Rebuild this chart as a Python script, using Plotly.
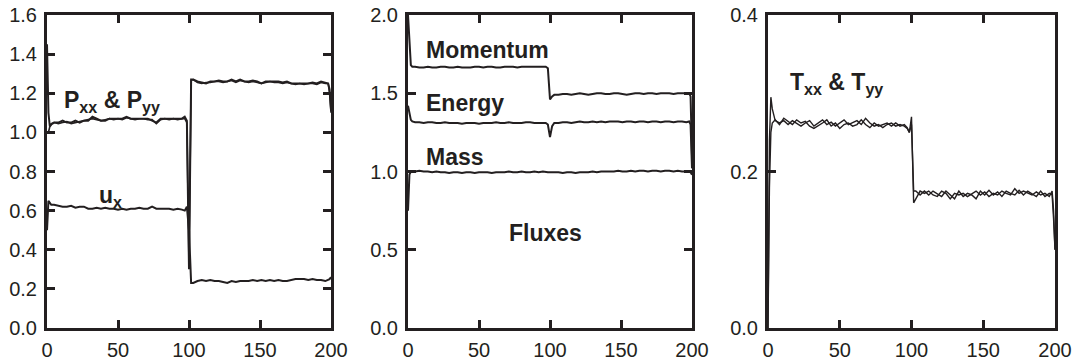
import plotly.graph_objects as go

xs = [0, 1, 2, 3, 5, 8, 11, 14, 17, 20, 23, 26, 29, 32, 35, 38, 41, 44, 47, 50,
      53, 56, 59, 62, 65, 68, 71, 74, 77, 80, 83, 86, 89, 92, 95, 97, 98.5, 100,
      101.5, 103, 106, 109, 112, 115, 118, 121, 124, 127, 130, 133, 136, 139, 142,
      145, 148, 151, 154, 157, 160, 163, 166, 169, 172, 175, 178, 181, 184, 187,
      190, 193, 196, 198, 199, 200]

pxx = [1.45, 1.10, 1.03, 1.04, 1.05, 1.05, 1.06, 1.05, 1.05, 1.06, 1.05, 1.06, 1.06, 1.08,
       1.07, 1.06, 1.06, 1.07, 1.07, 1.07, 1.07, 1.08, 1.07, 1.07, 1.07, 1.07, 1.07, 1.06,
       1.05, 1.07, 1.07, 1.07, 1.07, 1.07, 1.07, 1.08, 1.06, 0.30, 1.27, 1.27, 1.26, 1.255,
       1.25, 1.26, 1.26, 1.265, 1.26, 1.26, 1.27, 1.26, 1.27, 1.26, 1.26, 1.265, 1.26, 1.25,
       1.26, 1.26, 1.26, 1.26, 1.255, 1.26, 1.25, 1.25, 1.25, 1.25, 1.25, 1.255, 1.25, 1.26,
       1.255, 1.25, 1.22, 1.12]
pyy = [1.00, 1.00, 1.03, 1.045, 1.05, 1.045, 1.05, 1.055, 1.045, 1.05, 1.055, 1.06, 1.065,
       1.07, 1.065, 1.06, 1.065, 1.07, 1.065, 1.07, 1.065, 1.075, 1.07, 1.065, 1.07, 1.07,
       1.065, 1.065, 1.045, 1.065, 1.07, 1.065, 1.07, 1.065, 1.07, 1.07, 1.05, 0.32, 1.265,
       1.27, 1.255, 1.25, 1.255, 1.255, 1.26, 1.26, 1.255, 1.26, 1.265, 1.255, 1.265, 1.26,
       1.255, 1.26, 1.255, 1.25, 1.255, 1.26, 1.255, 1.255, 1.25, 1.255, 1.25, 1.245, 1.25,
       1.245, 1.25, 1.25, 1.245, 1.255, 1.25, 1.25, 1.20, 1.10]
ux = [0.50, 0.65, 0.64, 0.63, 0.63, 0.625, 0.62, 0.62, 0.625, 0.615, 0.62, 0.62, 0.61, 0.61,
      0.615, 0.61, 0.615, 0.61, 0.61, 0.605, 0.61, 0.605, 0.61, 0.61, 0.615, 0.61, 0.61, 0.62,
      0.61, 0.61, 0.61, 0.61, 0.605, 0.61, 0.605, 0.60, 0.62, 0.50, 0.23, 0.23, 0.24, 0.245,
      0.24, 0.245, 0.24, 0.24, 0.235, 0.23, 0.24, 0.235, 0.24, 0.24, 0.24, 0.245, 0.24, 0.245,
      0.24, 0.245, 0.24, 0.245, 0.24, 0.24, 0.245, 0.25, 0.25, 0.25, 0.245, 0.25, 0.245,
      0.245, 0.24, 0.245, 0.25, 0.26]

momentum = [2.00, 1.85, 1.68, 1.67, 1.67, 1.665, 1.665, 1.67, 1.665, 1.665, 1.67, 1.67, 1.665,
            1.665, 1.67, 1.665, 1.665, 1.665, 1.67, 1.67, 1.665, 1.67, 1.67, 1.665, 1.665, 1.67,
            1.67, 1.67, 1.665, 1.67, 1.67, 1.67, 1.67, 1.67, 1.67, 1.67, 1.66, 1.46, 1.48, 1.49,
            1.49, 1.495, 1.495, 1.49, 1.495, 1.5, 1.495, 1.49, 1.495, 1.5, 1.5, 1.495, 1.495, 1.5,
            1.5, 1.495, 1.49, 1.495, 1.5, 1.5, 1.495, 1.5, 1.5, 1.495, 1.5, 1.5, 1.5, 1.495, 1.5,
            1.5, 1.5, 1.5, 1.48, 1.10]
energy = [1.42, 1.36, 1.33, 1.32, 1.315, 1.315, 1.31, 1.315, 1.315, 1.31, 1.31, 1.315, 1.31,
          1.31, 1.31, 1.305, 1.31, 1.31, 1.31, 1.305, 1.31, 1.31, 1.31, 1.315, 1.31, 1.31, 1.315,
          1.31, 1.31, 1.31, 1.315, 1.315, 1.31, 1.31, 1.31, 1.31, 1.30, 1.22, 1.29, 1.31, 1.31,
          1.315, 1.315, 1.31, 1.315, 1.32, 1.315, 1.315, 1.32, 1.315, 1.32, 1.315, 1.32, 1.32,
          1.32, 1.315, 1.32, 1.32, 1.315, 1.32, 1.32, 1.315, 1.32, 1.32, 1.315, 1.32, 1.32, 1.315,
          1.32, 1.32, 1.315, 1.32, 1.30, 1.02]
mass = [0.75, 0.98, 1.00, 1.00, 1.00, 1.005, 1.00, 1.00, 0.995, 1.00, 0.995, 0.995, 0.99, 0.995,
        0.995, 0.99, 0.995, 0.995, 0.99, 0.995, 0.995, 0.995, 0.99, 0.995, 0.995, 0.995, 1.00,
        0.995, 0.995, 1.00, 0.995, 0.995, 1.00, 0.995, 1.00, 0.995, 0.995, 0.995, 0.995, 0.995,
        0.995, 0.99, 0.995, 0.995, 0.99, 0.995, 0.995, 0.995, 1.00, 0.995, 1.00, 1.00, 1.00, 1.00,
        1.005, 1.00, 1.00, 1.005, 1.00, 1.005, 1.005, 1.00, 1.005, 1.005, 1.00, 1.005, 1.005,
        1.00, 1.005, 1.00, 1.00, 1.00, 0.995, 0.98]

txx = [0.0, 0.24, 0.295, 0.28, 0.265, 0.262, 0.265, 0.26, 0.265, 0.262, 0.258, 0.262, 0.265,
       0.258, 0.262, 0.266, 0.26, 0.263, 0.258, 0.262, 0.266, 0.26, 0.262, 0.265, 0.26, 0.268,
       0.262, 0.258, 0.26, 0.256, 0.26, 0.262, 0.258, 0.26, 0.258, 0.255, 0.25, 0.27, 0.16,
       0.165, 0.175, 0.172, 0.175, 0.17, 0.168, 0.175, 0.172, 0.165, 0.172, 0.17, 0.172, 0.168,
       0.172, 0.175, 0.17, 0.174, 0.168, 0.172, 0.17, 0.175, 0.172, 0.17, 0.178, 0.172, 0.175,
       0.172, 0.17, 0.174, 0.17, 0.172, 0.168, 0.175, 0.15, 0.10]
tyy = [0.0, 0.18, 0.25, 0.262, 0.266, 0.26, 0.268, 0.264, 0.26, 0.266, 0.262, 0.264, 0.258,
       0.255, 0.258, 0.262, 0.266, 0.258, 0.262, 0.255, 0.26, 0.262, 0.258, 0.26, 0.266, 0.26,
       0.256, 0.262, 0.258, 0.26, 0.262, 0.258, 0.262, 0.258, 0.26, 0.256, 0.25, 0.26, 0.175,
       0.175, 0.17, 0.175, 0.17, 0.175, 0.172, 0.168, 0.175, 0.17, 0.165, 0.175, 0.168, 0.172,
       0.17, 0.165, 0.175, 0.17, 0.176, 0.17, 0.174, 0.168, 0.175, 0.172, 0.17, 0.176, 0.17,
       0.175, 0.172, 0.168, 0.175, 0.168, 0.172, 0.17, 0.14, 0.10]

xticks = [0, 50, 100, 150, 200]
yticks1 = [0.0, 0.2, 0.4, 0.6, 0.8, 1.0, 1.2, 1.4, 1.6]
yticks2 = [0.0, 0.5, 1.0, 1.5, 2.0]
yticks3 = [0.0, 0.2, 0.4]

W, H = 1075, 360
def dom(a, b, total):
    return [a / total, b / total]

fig = go.Figure()
line_c = "#231f20"
fig.add_trace(go.Scatter(x=xs, y=pxx, mode="lines", line=dict(color=line_c, width=2), xaxis="x", yaxis="y"))
fig.add_trace(go.Scatter(x=xs, y=pyy, mode="lines", line=dict(color=line_c, width=1.6), xaxis="x", yaxis="y"))
fig.add_trace(go.Scatter(x=xs, y=ux, mode="lines", line=dict(color=line_c, width=2), xaxis="x", yaxis="y"))
fig.add_trace(go.Scatter(x=xs, y=momentum, mode="lines", line=dict(color=line_c, width=2), xaxis="x2", yaxis="y2"))
fig.add_trace(go.Scatter(x=xs, y=energy, mode="lines", line=dict(color=line_c, width=2), xaxis="x2", yaxis="y2"))
fig.add_trace(go.Scatter(x=xs, y=mass, mode="lines", line=dict(color=line_c, width=2), xaxis="x2", yaxis="y2"))
fig.add_trace(go.Scatter(x=xs, y=txx, mode="lines", line=dict(color=line_c, width=1.4), xaxis="x3", yaxis="y3"))
fig.add_trace(go.Scatter(x=xs, y=tyy, mode="lines", line=dict(color=line_c, width=1.4), xaxis="x3", yaxis="y3"))

tickfont = dict(family="Liberation Sans, Arial, sans-serif", size=20, color="#231f20")
axcommon = dict(showline=True, linewidth=3, linecolor=line_c, mirror="ticks", ticks="inside",
                ticklen=8, tickwidth=3, tickcolor=line_c, showgrid=False, zeroline=False,
                tickfont=tickfont, fixedrange=True, automargin=False)

ydom = [1 - 328 / H, 1 - 15 / H]
xdoms = [dom(47, 331, W), dom(408, 692, W), dom(768, 1055, W)]
ycfg = [(yticks1, [0, 1.6]), (yticks2, [0, 2.0]), (yticks3, [0, 0.4])]

layout = dict(template="none", width=W, height=H, margin=dict(l=0, r=0, t=0, b=0),
              showlegend=False, plot_bgcolor="white", paper_bgcolor="white", hovermode=False)
for i in range(3):
    sx = "" if i == 0 else str(i + 1)
    layout["xaxis" + sx] = dict(axcommon, domain=xdoms[i], range=[0, 200], tickvals=xticks,
                                anchor="y" + sx, ticklabelstandoff=2)
    layout["yaxis" + sx] = dict(axcommon, domain=ydom, range=ycfg[i][1], tickvals=ycfg[i][0],
                                tickformat=".1f", anchor="x" + sx, ticklabelstandoff=3)
fig.update_layout(**layout)

afont = dict(family="Liberation Sans, Arial, sans-serif", size=23, color="#231f20")
anns = [
    ("x", "y", 10.5, 1.16, "<b>P<sub>xx</sub> & P<sub>yy</sub></b>"),
    ("x", "y", 35, 0.67, "<b>u<sub>x</sub></b>"),
    ("x2", "y2", 11.5, 1.775, "<b>Momentum</b>"),
    ("x2", "y2", 11.5, 1.435, "<b>Energy</b>"),
    ("x2", "y2", 11.5, 1.09, "<b>Mass</b>"),
    ("x2", "y2", 70, 0.607, "<b>Fluxes</b>"),
    ("x3", "y3", 14, 0.312, "<b>T<sub>xx</sub> & T<sub>yy</sub></b>"),
]
for xr, yr, x, y, t in anns:
    fig.add_annotation(x=x, y=y, xref=xr, yref=yr, text=t, showarrow=False,
                       xanchor="left", yanchor="middle", font=afont)

fig.write_html("out.html", config={"displayModeBar": False, "staticPlot": True},
               post_script="document.body.style.margin='0';document.body.style.overflow='hidden';")
